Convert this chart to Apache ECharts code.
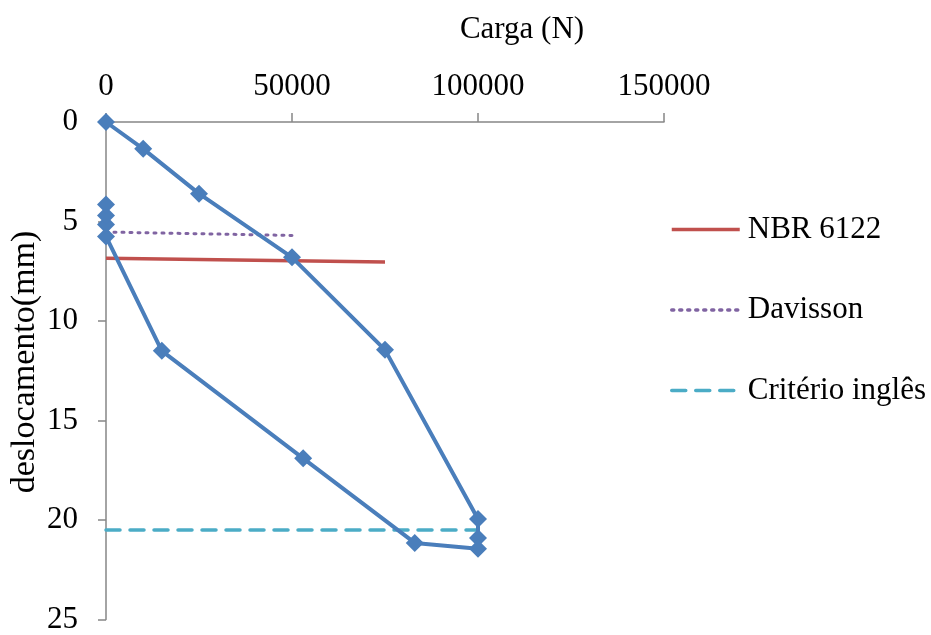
<!DOCTYPE html>
<html>
<head>
<meta charset="utf-8">
<script src="https://cdn.jsdelivr.net/npm/echarts@6/dist/echarts.min.js"></script>
<style>
  html, body { margin: 0; padding: 0; background: #fff; }
  #chart { width: 931px; height: 635px; }
</style>
</head>
<body>
<div id="chart"></div>
<script>
// Load test: applied load (N) against measured displacement (mm)
const cargaN = [0, 10000, 25000, 50000, 75000, 100000, 100000, 100000, 83000, 53000, 15000, 0, 0, 0, 0];
const deslocamentoMm = [0, 1.35, 3.6, 6.8, 11.45, 19.95, 20.9, 21.45, 21.15, 16.9, 11.5, 5.75, 5.15, 4.7, 4.15];

// Failure-load criteria lines
const nbrCarga = [0, 75000];
const nbrDesloc = [6.85, 7.03];
const davissonCarga = [0, 50000];
const davissonDesloc = [5.53, 5.7];
const inglesCarga = [0, 100000];
const inglesDesloc = [20.5, 20.5];

const legendNames = ['NBR 6122', 'Davisson', 'Critério inglês'];
const xTitle = 'Carga (N)';
const yTitle = 'deslocamento(mm)';

const FONT = '"Liberation Serif", "Times New Roman", serif';
const AXIS_GREY = '#868686';

const zip = (xs, ys) => xs.map((x, i) => [x, ys[i]]);

const chart = echarts.init(document.getElementById('chart'), null, { renderer: 'canvas' });

chart.setOption({
  animation: false,
  backgroundColor: '#ffffff',
  grid: { left: 106, top: 122, right: 267, bottom: 13, containLabel: false },
  xAxis: {
    type: 'value',
    position: 'top',
    min: 0, max: 150000, interval: 50000,
    splitLine: { show: false },
    axisLine: { show: true, onZero: false, lineStyle: { color: AXIS_GREY, width: 1.5 } },
    axisTick: { show: true, length: 9, lineStyle: { color: AXIS_GREY, width: 1.5 } },
    axisLabel: {
      margin: 20, color: '#000', fontFamily: FONT, fontSize: 31,
      formatter: (v) => String(v)
    }
  },
  yAxis: {
    type: 'value',
    inverse: true,
    min: 0, max: 25, interval: 5,
    splitLine: { show: false },
    axisLine: { show: true, onZero: false, lineStyle: { color: AXIS_GREY, width: 1.5 } },
    axisTick: { show: true, length: 8, lineStyle: { color: AXIS_GREY, width: 1.5 } },
    axisLabel: { margin: 28, color: '#000', fontFamily: FONT, fontSize: 31 }
  },
  legend: {
    data: legendNames,
    orient: 'vertical',
    left: 670,
    top: 214,
    padding: 0,
    itemWidth: 68,
    itemHeight: 14,
    itemGap: 49.5,
    itemStyle: { opacity: 0 },
    lineStyle: { width: 3.5 },
    textStyle: { color: '#000', fontFamily: FONT, fontSize: 31, padding: [0, 0, 0, 3] }
  },
  graphic: [
    {
      type: 'text',
      style: {
        text: xTitle, x: 522, y: 30,
        align: 'center', verticalAlign: 'middle',
        fill: '#000', font: '31px ' + FONT
      }
    },
    {
      type: 'text',
      x: 25, y: 362,
      rotation: Math.PI / 2,
      style: {
        text: yTitle, x: 0, y: 0,
        align: 'center', verticalAlign: 'middle',
        fill: '#000', font: '34px ' + FONT
      }
    }
  ],
  series: [
    {
      name: 'NBR 6122',
      type: 'line',
      data: zip(nbrCarga, nbrDesloc),
      symbol: 'none',
      lineStyle: { color: '#C0504D', width: 3.5, type: 'solid' },
      itemStyle: { color: '#C0504D' },
      z: 2
    },
    {
      name: 'Davisson',
      type: 'line',
      data: zip(davissonCarga, davissonDesloc),
      symbol: 'none',
      lineStyle: { color: '#8064A2', width: 3, type: [2, 6], cap: 'round' },
      itemStyle: { color: '#8064A2' },
      z: 2
    },
    {
      name: 'Critério inglês',
      type: 'line',
      data: zip(inglesCarga, inglesDesloc),
      symbol: 'none',
      lineStyle: { color: '#4BACC6', width: 3.5, type: [14, 10], cap: 'round' },
      itemStyle: { color: '#4BACC6' },
      z: 2
    },
    {
      name: 'Ensaio',
      type: 'line',
      data: zip(cargaN, deslocamentoMm),
      symbol: 'diamond',
      symbolSize: 18,
      showAllSymbol: true,
      lineStyle: { color: '#4A7EBB', width: 4 },
      itemStyle: { color: '#4A7EBB' },
      z: 3
    }
  ]
});
</script>
</body>
</html>
